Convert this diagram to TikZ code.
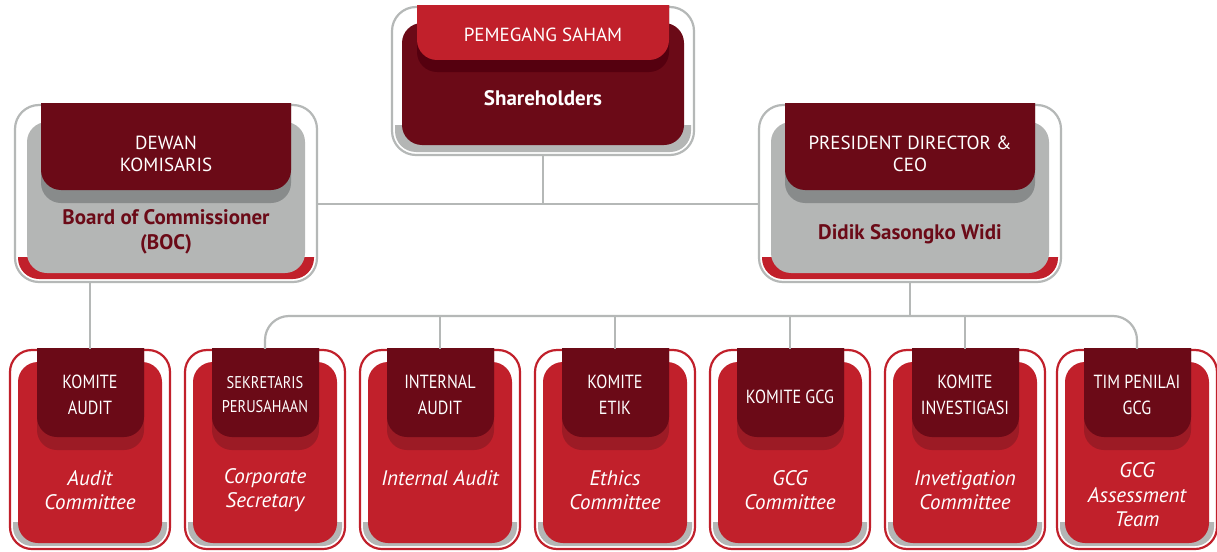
\documentclass[tikz,border=0pt]{standalone}
\usepackage{fontspec}
\setmainfont{PT Sans}
\newfontfamily\narrowfont[FakeStretch=0.85]{PT Sans}

\definecolor{brightred}{HTML}{C1202B}
\definecolor{darkred}{HTML}{6B0A17}
\definecolor{deepred}{HTML}{55000F}
\definecolor{shadered}{HTML}{9C1B25}
\definecolor{cardgray}{HTML}{B4B6B5}
\definecolor{shadegray}{HTML}{888B8B}
\definecolor{linegray}{HTML}{B5B8B7}

\tikzstyle{topframe} = [rectangle, rounded corners=24pt, minimum width=302pt, minimum height=148pt, draw=linegray, line width=2.2pt, fill=white]
\tikzstyle{midframe} = [rectangle, rounded corners=24pt, minimum width=302pt, minimum height=177pt, draw=linegray, line width=2.2pt, fill=white]
\tikzstyle{smallframe} = [rectangle, rounded corners=22pt, minimum width=160pt, minimum height=199pt, draw=brightred, line width=2.2pt, fill=white]
\tikzstyle{tabtext} = [text=white, align=center, font=\fontsize{19}{22}\selectfont]
\tikzstyle{subtext} = [text=white, align=center, font=\narrowfont\fontsize{19}{26}\selectfont]
\tikzstyle{nametext} = [text=darkred, align=center, font=\bfseries\fontsize{21}{25}\selectfont]
\tikzstyle{roletext} = [text=white, align=center, font=\itshape\fontsize{21}{24.5}\selectfont]
\tikzstyle{link} = [draw=linegray, line width=2.2pt]

% grey card with dark tab: name, centre x
\newcommand{\midcard}[2]{%
  \begin{scope}[shift={(#2,105)}]
    \node[midframe] (#1) at (0,88.5) {};
    \begin{scope}
      \clip[rounded corners=21pt] (-148,3) rectangle (148,174);
      \fill[brightred] (-151,152) rectangle (151,177);
    \end{scope}
    \fill[cardgray, rounded corners=20pt] (-139,17) rectangle (139,168);
    \begin{scope}
      \clip (-130,-1.1) rectangle (130,110);
      \fill[shadegray, rounded corners=20pt] (-125,-30) rectangle (125,98);
      \fill[darkred, rounded corners=20pt] (-125,-30) rectangle (125,85);
    \end{scope}
  \end{scope}}

% red committee card: name, centre x
\newcommand{\smallcard}[2]{%
  \begin{scope}[shift={(#2,350)}]
    \node[smallframe] (#1) at (0,99.5) {};
    \begin{scope}
      \clip[rounded corners=19pt] (-77,3) rectangle (77,196);
      \fill[cardgray] (-81,172) rectangle (81,199);
    \end{scope}
    \fill[brightred, rounded corners=20pt] (-72,12) rectangle (72,193);
    \begin{scope}
      \clip (-60,-1.1) rectangle (60,120);
      \fill[shadered, rounded corners=20pt] (-53,-30) rectangle (54,100);
      \fill[darkred, rounded corners=20pt] (-53,-30) rectangle (54,87);
    \end{scope}
  \end{scope}}

\begin{document}
\begin{tikzpicture}[x=1pt, y=-1pt]
    \useasboundingbox (0,0) rectangle (1217,551);
    \fill[white] (0,0) rectangle (1217,551);

    % shareholders
    \begin{scope}[shift={(543,7)}]
        \node[topframe] (holders) at (0,74) {};
        \begin{scope}
            \clip[rounded corners=21pt] (-148,3) rectangle (148,145);
            \fill[cardgray] (-151,118) rectangle (151,148);
        \end{scope}
        \fill[darkred, rounded corners=20pt] (-141,16) rectangle (141,138);
        \begin{scope}
            \clip (-130,-1.1) rectangle (130,80);
            \fill[deepred, rounded corners=20pt] (-126,-30) rectangle (126,65);
            \fill[brightred, rounded corners=20pt] (-126,-30) rectangle (126,53);
        \end{scope}
    \end{scope}
    \node[tabtext] (holders-id) at (543,35) {PEMEGANG SAHAM};
    \node[nametext, text=white] (holders-en) at (543,98) {Shareholders};

    % board and director
    \midcard{boc}{166}
    \midcard{ceo}{910}
    \node[tabtext] (boc-id) at (166,154) {DEWAN\\KOMISARIS};
    \node[nametext] (boc-en) at (166,232) {Board of Commissioner\\(BOC)};
    \node[tabtext] (ceo-id) at (910,154) {PRESIDENT DIRECTOR \&\\CEO};
    \node[nametext] (ceo-en) at (910,234) {Didik Sasongko Widi};

    % committees
    \smallcard{c1}{90}
    \smallcard{c2}{265}
    \smallcard{c3}{440}
    \smallcard{c4}{615}
    \smallcard{c5}{790}
    \smallcard{c6}{965}
    \smallcard{c7}{1137}
    \node[subtext] (c1-id) at (90,395) {KOMITE\\AUDIT};
    \node[subtext, font=\narrowfont\fontsize{17}{24}\selectfont] (c2-id) at (265,395) {SEKRETARIS\\PERUSAHAAN};
    \node[subtext] (c3-id) at (440,395) {INTERNAL\\AUDIT};
    \node[subtext] (c4-id) at (615,395) {KOMITE\\ETIK};
    \node[subtext] (c5-id) at (790,397) {KOMITE GCG};
    \node[subtext] (c6-id) at (965,395) {KOMITE\\INVESTIGASI};
    \node[subtext] (c7-id) at (1137,395) {TIM PENILAI\\GCG};
    \node[roletext] (c1-en) at (90,490) {Audit\\Committee};
    \node[roletext] (c2-en) at (265,490) {Corporate\\Secretary};
    \node[roletext] (c3-en) at (440,478) {Internal Audit};
    \node[roletext] (c4-en) at (615,490) {Ethics\\Committee};
    \node[roletext] (c5-en) at (790,490) {GCG\\Committee};
    \node[roletext] (c6-en) at (965,490) {Invetigation\\Committee};
    \node[roletext] (c7-en) at (1137,495) {GCG\\Assessment\\Team};

    % connectors
    \coordinate (bus1) at (543,204);
    \coordinate (bus2) at (910,316);
    \draw[link] (holders.south) -- (bus1);
    \draw[link] (boc.east |- bus1) -- (ceo.west |- bus1);
    \draw[link] (c1.north |- boc.south) -- (c1.north);
    \draw[link] (ceo.south) -- (bus2);
    \draw[link, rounded corners=24pt] (c2.north) -- (c2.north |- bus2) -- (c7.north |- bus2) -- (c7.north);
    \foreach \c in {c3,c4,c5,c6}
        \draw[link] (\c.north) -- (\c.north |- bus2);
\end{tikzpicture}
\end{document}
